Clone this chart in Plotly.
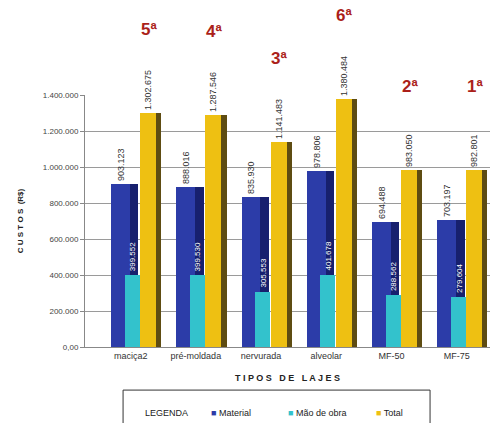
import plotly.graph_objects as go

categories = ["maciça2", "pré-moldada", "nervurada", "alveolar", "MF-50", "MF-75"]
material = [903123, 888016, 835930, 978806, 694488, 703197]
mao_de_obra = [399552, 399530, 305553, 401678, 288562, 279604]
total = [1302675, 1287546, 1141483, 1380484, 983050, 982801]
ranks = ["5ª", "4ª", "3ª", "6ª", "2ª", "1ª"]
tick_vals = [0, 200000, 400000, 600000, 800000, 1000000, 1200000, 1400000]
tick_text = ["0,00", "200.000", "400.000", "600.000", "800.000", "1.000.000", "1.200.000", "1.400.000"]
series_names = ["Material", "Mão de obra", "Total"]
series_colors = ["#2c3ca8", "#33c2cc", "#eec012"]
side_colors = ["#17206e", "#1f8f98", "#5e4c12"]

FONT = "Liberation Sans, Arial, sans-serif"
lbl_font = dict(family=FONT, size=9, color="#333333")


def fmt(v):
    return f"{v:,.0f}".replace(",", ".")


fig = go.Figure()

# Material (front face + darker side face)
fig.add_trace(go.Bar(
    x=categories, y=material, name=series_names[0], offset=-0.30, width=0.29,
    marker=dict(color=series_colors[0], line=dict(width=0)),
    text=[fmt(v) for v in material],
    textposition="outside", textangle=-90, textfont=lbl_font,
    constraintext="none", cliponaxis=False,
))
fig.add_trace(go.Bar(
    x=categories, y=material, offset=-0.01, width=0.13,
    marker=dict(color=side_colors[0], line=dict(width=0)), hoverinfo="skip",
))
# Mão de obra
fig.add_trace(go.Bar(
    x=categories, y=mao_de_obra, name=series_names[1], offset=-0.09, width=0.23,
    marker=dict(color=series_colors[1], line=dict(width=0)), cliponaxis=False,
))
# Total (front face + darker side face)
fig.add_trace(go.Bar(
    x=categories, y=total, name=series_names[2], offset=0.145, width=0.245,
    marker=dict(color=series_colors[2], line=dict(width=0)),
    text=[fmt(v) for v in total],
    textposition="outside", textangle=-90, textfont=lbl_font,
    constraintext="none", cliponaxis=False,
))
fig.add_trace(go.Bar(
    x=categories, y=total, offset=0.39, width=0.08,
    marker=dict(color=side_colors[2], line=dict(width=0)), hoverinfo="skip",
))

# Mão de obra labels (white, above the cyan bar, over the blue bar)
for c, v in zip(categories, mao_de_obra):
    fig.add_annotation(
        x=c, y=v, text=fmt(v), showarrow=False, textangle=-90, xshift=2,
        yshift=2, yanchor="bottom", font=dict(family=FONT, size=8, color="#ffffff"),
    )

# Ranking labels
for c, t, r in zip(categories, total, ranks):
    fig.add_annotation(
        x=c, y=t, text=f"<b>{r}</b>", showarrow=False, xshift=18, yshift=72,
        yanchor="bottom", font=dict(family=FONT, size=17, color="#ab1f1a"),
    )

# Legend (boxed, one row, with caption)
legend_y = -0.262
fig.add_shape(type="rect", xref="paper", yref="paper", x0=0.094, x1=0.852,
              y0=-0.40, y1=-0.171, line=dict(color="#333333", width=1), fillcolor="rgba(0,0,0,0)")
fig.add_annotation(
    xref="paper", yref="paper", x=0.143, y=legend_y, text="LEGENDA", showarrow=False,
    xanchor="left", yanchor="middle", font=dict(family=FONT, size=9, color="#222222"),
)
legend_x = [0.306, 0.496, 0.713]
for name, col, lx in zip(series_names, series_colors, legend_x):
    fig.add_annotation(
        xref="paper", yref="paper", x=lx, y=legend_y, showarrow=False,
        text=f"<span style='color:{col}'>■</span> {name}",
        xanchor="left", yanchor="middle", font=dict(family=FONT, size=9, color="#222222"),
    )

fig.update_layout(
    width=502, height=423,
    margin=dict(l=85, r=12, t=95, b=76, autoexpand=False),
    paper_bgcolor="white", plot_bgcolor="white",
    barmode="overlay", bargap=0, showlegend=False,
    font=dict(family=FONT, size=9, color="#333333"),
    xaxis=dict(
        range=[-0.70, 5.51], showgrid=False, showline=True, linecolor="#888888",
        ticks="", tickfont=dict(family=FONT, size=9, color="#333333"), automargin=False,
        title=dict(text="<b>T I P O S   D E   L A J E S</b>", font=dict(family=FONT, size=9, color="#222222"), standoff=14),
    ),
    yaxis=dict(
        range=[0, 1400000], tickvals=tick_vals, ticktext=tick_text,
        showgrid=True, gridcolor="#9a9a9a", gridwidth=1, automargin=False,
        showline=True, linecolor="#888888", ticks="outside", ticklen=4, tickcolor="#888888",
        tickfont=dict(family=FONT, size=8, color="#444444"),
        title=dict(text="<b>C U S T O S  (R$)</b>", font=dict(family=FONT, size=8, color="#222222"), standoff=18),
        zeroline=False,
    ),
)

fig.write_html("out.html")
